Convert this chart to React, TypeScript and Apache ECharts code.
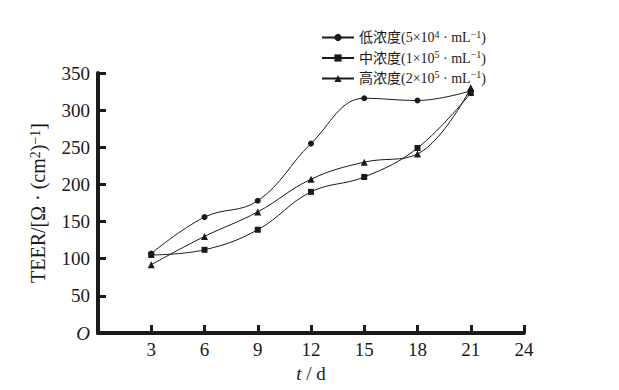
import React, { useEffect, useRef } from "react";
import * as echarts from "echarts";

const days = [3, 6, 9, 12, 15, 18, 21];
const lowConc = [107, 156, 178, 255, 316, 313, 326];
const midConc = [105, 112, 139, 190, 210, 249, 323];
const highConc = [92, 130, 163, 207, 230, 241, 330];

const seriesNames = ["低浓度", "中浓度", "高浓度"];
const legendLabels: Record<string, [string, string]> = {
  低浓度: ["低浓度(5×10", "4"],
  中浓度: ["中浓度(1×10", "5"],
  高浓度: ["高浓度(2×10", "5"],
};
const xTicks = [0, 3, 6, 9, 12, 15, 18, 21, 24];

const FONT = '"Liberation Serif", "Noto Sans CJK SC", serif';
const INK = "#1a1a1a";

export default function App() {
  const ref = useRef<HTMLDivElement>(null);
  useEffect(() => {
    if (!ref.current) return;
    const chart = echarts.init(ref.current, undefined, { renderer: "svg" });
    const mk = (name: string, data: number[], symbol: string, size: number) => ({
      name,
      type: "line",
      smooth: 0.4,
      data: days.map((d, i) => [d, data[i]]),
      symbol,
      symbolSize: size,
      itemStyle: { color: INK },
      lineStyle: { color: INK, width: 1 },
    });
    chart.setOption({
      animation: false,
      backgroundColor: "#ffffff",
      grid: { left: 98, right: 95, top: 73, bottom: 57 },
      legend: {
        orient: "vertical",
        left: 316,
        top: 24,
        itemWidth: 32,
        itemHeight: 9,
        itemGap: 5,
        data: seriesNames,
        formatter: (name: string) => {
          const [a, b] = legendLabels[name];
          return `{t|${a}}{s|${b}}{t| · mL}{s|−1}{t|)}`;
        },
        textStyle: {
          fontFamily: FONT,
          color: INK,
          rich: {
            t: { fontFamily: FONT, fontSize: 14, lineHeight: 17, color: INK },
            s: { fontFamily: FONT, fontSize: 10, lineHeight: 10, verticalAlign: "top", color: INK },
          },
        },
      },
      xAxis: {
        type: "value",
        min: 0,
        max: 24,
        interval: 3,
        name: "{i|t} / d",
        nameLocation: "middle",
        nameGap: 30,
        nameTextStyle: {
          fontFamily: FONT,
          fontSize: 19,
          color: INK,
          rich: { i: { fontFamily: FONT, fontSize: 19, fontStyle: "italic", color: INK } },
        },
        axisLine: { lineStyle: { color: INK, width: 4 } },
        axisTick: { inside: true, length: 8, lineStyle: { color: INK, width: 3 } },
        axisLabel: {
          fontFamily: FONT,
          fontSize: 19,
          color: INK,
          margin: 7,
          formatter: (v: number) => (v === 0 || !xTicks.includes(v) ? "" : String(v)),
        },
        splitLine: { show: false },
      },
      yAxis: {
        type: "value",
        min: 0,
        max: 350,
        interval: 50,
        name: "TEER/[Ω · (cm{s|2}){s|−1}]",
        nameLocation: "middle",
        nameGap: 50,
        nameRotate: 90,
        nameTextStyle: {
          fontFamily: FONT,
          fontSize: 20,
          color: INK,
          rich: {
            s: { fontFamily: FONT, fontSize: 14, lineHeight: 14, verticalAlign: "top", color: INK },
          },
        },
        axisLine: { show: true, lineStyle: { color: INK, width: 4 } },
        axisTick: { show: true, inside: true, length: 8, lineStyle: { color: INK, width: 3 } },
        axisLabel: {
          fontFamily: FONT,
          fontSize: 19,
          color: INK,
          margin: 8,
          formatter: (v: number) => (v === 0 ? "{i|O}" : String(v)),
          rich: { i: { fontFamily: FONT, fontSize: 19, fontStyle: "italic", color: INK } },
        },
        splitLine: { show: false },
      },
      series: [
        mk(seriesNames[0], lowConc, "circle", 6),
        mk(seriesNames[1], midConc, "rect", 6),
        mk(seriesNames[2], highConc, "triangle", 7),
      ],
    });
    return () => chart.dispose();
  }, []);
  return <div ref={ref} style={{ width: 619, height: 390, margin: -8 }} />;
}
